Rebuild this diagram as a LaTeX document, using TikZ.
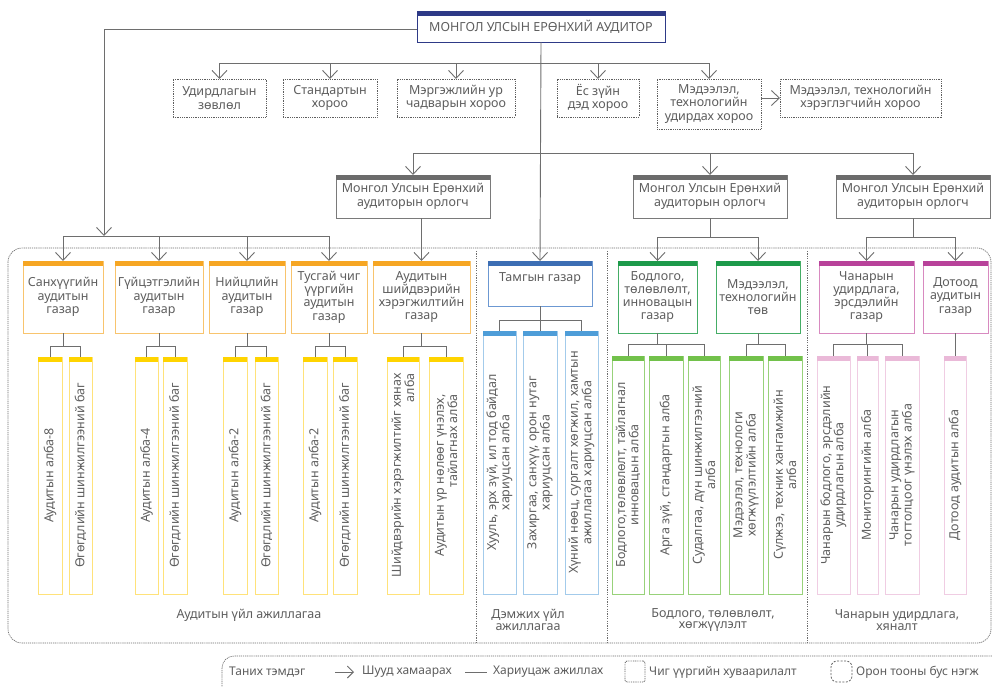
\documentclass[tikz,border=0pt]{standalone}
\usepackage{fontspec}
\setmainfont{Noto Sans}
\usetikzlibrary{arrows.meta}
\definecolor{txt}{HTML}{5E5E5E}
\definecolor{ln}{HTML}{6E6E6E}
\definecolor{navy}{HTML}{2E3A87}
\definecolor{dbar}{HTML}{6B6B6B}
\definecolor{dbord}{HTML}{7A7A7A}
\definecolor{orbar}{HTML}{F6A623}
\definecolor{orbord}{HTML}{F8C46E}
\definecolor{yebar}{HTML}{FFD400}
\definecolor{yebord}{HTML}{FFE27A}
\definecolor{blbar}{HTML}{3C6EB4}
\definecolor{blbord}{HTML}{6C98D2}
\definecolor{lbbar}{HTML}{4E9DD8}
\definecolor{lbbord}{HTML}{A3CBEB}
\definecolor{grbar}{HTML}{1D9A4A}
\definecolor{grbord}{HTML}{45AD66}
\definecolor{lgbar}{HTML}{72C14B}
\definecolor{lgbord}{HTML}{98D27A}
\definecolor{mgbar}{HTML}{B8429A}
\definecolor{mgbord}{HTML}{D88AC0}
\definecolor{pkbar}{HTML}{EAB9D8}
\definecolor{pkbord}{HTML}{F0CDE3}
\tikzset{
  base/.style={draw, inner sep=0pt, outer sep=0pt, align=center, text=txt,
    font=\fontsize{12.5}{13.3}\selectfont, line width=0.9pt, fill=white},
  committee/.style={base, draw=txt, dash pattern=on 0.9pt off 0.9pt, line width=0.8pt},
  conn/.style={draw=ln, line width=0.9pt},
  arr/.style={conn, -{Straight Barb[length=8pt,width=15pt]}},
  frame/.style={draw=ln, line width=0.7pt, dash pattern=on 1.2pt off 0.9pt},
  divider/.style={draw=ln, line width=0.7pt, dash pattern=on 1.2pt off 1.2pt},
  lbl/.style={text=txt, align=center, inner sep=0pt, font=\fontsize{12.5}{11.5}\selectfont},
  leg/.style={text=txt, inner sep=0pt, anchor=west, font=\fontsize{12}{13}\selectfont},
}
\newcommand\barbox[8]{%
  \node[base, draw=#2, anchor=north west, minimum width={(#6-#4)*1pt}, minimum height={(#7-#5)*1pt}] (#1) at (#4,#5) {#8};
  \fill[#3] (#1.north west) rectangle ([yshift=-5pt]#1.north east);
}
\newcommand\colbox[9]{%
  \node[base, draw=#2, rotate=90, align=#9, minimum width={(#7-#5)*1pt}, minimum height={(#6-#4)*1pt}] (#1) at ({(#4+#6)/2},{(#5+#7)/2}) {#8};
  \fill[#3] (#1.north east) rectangle ([yshift=-5pt]#1.south east);
}
\newcommand\cbox[6]{%
  \node[committee, anchor=north west, minimum width={(#4-#2)*1pt}, minimum height={(#5-#3)*1pt}] (#1) at (#2,#3) {#6};
}
\begin{document}
\begin{tikzpicture}[x=1pt,y=-1pt]
\useasboundingbox (0,0) rectangle (992,686);
\fill[white] (0,0) rectangle (992,686);

% frames
\draw[frame, rounded corners=14pt] (8,248) rectangle (991,643);
\draw[divider] (476,251) -- (476,643);
\draw[divider] (607,251) -- (607,643);
\draw[divider] (807,251) -- (807,643);

% top
\node[base, draw=navy, anchor=north west, minimum width=248pt, minimum height=31pt] (aud) at (417,11) {МОНГОЛ УЛСЫН ЕРӨНХИЙ АУДИТОР};
\fill[navy] (aud.north west) rectangle ([yshift=-4.5pt]aud.north east);

% committees
\cbox{c1}{173}{79}{266}{117}{Удирдлагын\\зөвлөл}
\cbox{c2}{283}{79}{377}{117}{Стандартын\\хороо}
\cbox{c3}{397}{79}{515}{117}{Мэргэжлийн ур\\чадварын хороо}
\cbox{c4}{557}{79}{639}{117}{Ёс зүйн\\дэд хороо}
\cbox{c5}{657}{79}{761}{129}{Мэдээлэл,\\технологийн\\удирдах хороо}
\cbox{c6}{780}{79}{941}{117}{Мэдээлэл, технологийн\\хэрэглэгчийн хороо}

% deputies
\barbox{d1}{dbord}{dbar}{336}{175}{490}{218}{Монгол Улсын Ерөнхий\\аудиторын орлогч}
\barbox{d2}{dbord}{dbar}{633}{175}{787}{218}{Монгол Улсын Ерөнхий\\аудиторын орлогч}
\barbox{d3}{dbord}{dbar}{836}{175}{990}{218}{Монгол Улсын Ерөнхий\\аудиторын орлогч}

% level 2
\barbox{s1}{orbord}{orbar}{23}{261}{103}{333}{Санхүүгийн\\аудитын\\газар}
\barbox{s2}{orbord}{orbar}{115}{261}{203}{333}{Гүйцэтгэлийн\\аудитын\\газар}
\barbox{s3}{orbord}{orbar}{209}{261}{285}{333}{Нийцлийн\\аудитын\\газар}
\barbox{s4}{orbord}{orbar}{291}{261}{367}{333}{Тусгай чиг\\үүргийн\\аудитын\\газар}
\barbox{s5}{orbord}{orbar}{373}{261}{470}{333}{Аудитын\\шийдвэрийн\\хэрэгжилтийн\\газар}
\barbox{tam}{blbord}{blbar}{488}{261}{592}{306}{Тамгын газар\\~}
\barbox{b1}{grbord}{grbar}{618}{261}{697}{333}{Бодлого,\\төлөвлөлт,\\инновацын\\газар}
\barbox{b2}{grbord}{grbar}{716}{261}{800}{333}{Мэдээлэл,\\технологийн\\төв}
\barbox{q1}{mgbord}{mgbar}{819}{261}{914}{333}{Чанарын\\удирдлага,\\эрсдэлийн\\газар}
\barbox{q2}{mgbord}{mgbar}{923}{261}{988}{333}{Дотоод\\аудитын\\газар}

% level 3
\colbox{a1}{yebord}{yebar}{38}{357}{62}{594}{Аудитын алба-8}{center}
\colbox{a2}{yebord}{yebar}{69}{357}{92}{594}{Өгөгдлийн шинжилгээний баг}{center}
\colbox{a3}{yebord}{yebar}{135}{357}{158}{594}{Аудитын алба-4}{center}
\colbox{a4}{yebord}{yebar}{163}{357}{187}{594}{Өгөгдлийн шинжилгээний баг}{center}
\colbox{a5}{yebord}{yebar}{223}{357}{247}{594}{Аудитын алба-2}{center}
\colbox{a6}{yebord}{yebar}{255}{357}{278}{594}{Өгөгдлийн шинжилгээний баг}{center}
\colbox{a7}{yebord}{yebar}{303}{357}{327}{594}{Аудитын алба-2}{center}
\colbox{a8}{yebord}{yebar}{333}{357}{357}{594}{Өгөгдлийн шинжилгээний баг}{center}
\colbox{a9}{yebord}{yebar}{387}{357}{419}{594}{Шийдвэрийн хэрэгжилтийг хянах\\алба}{right}
\colbox{a10}{yebord}{yebar}{429}{357}{463}{594}{Аудитын үр нөлөөг үнэлэх,\\тайлагнах алба}{right}
\colbox{t1}{lbbord}{lbbar}{483}{331}{516}{594}{Хууль, эрх зүй, ил тод байдал\\хариуцсан алба}{center}
\colbox{t2}{lbbord}{lbbar}{523}{331}{557}{594}{Захиргаа, санхүү, орон нутаг\\хариуцсан алба}{center}
\colbox{t3}{lbbord}{lbbar}{565}{331}{598}{594}{Хүний нөөц, сургалт хөгжил, хамтын\\ажиллагаа хариуцсан алба}{center}
\colbox{g1}{lgbord}{lgbar}{612}{356}{644}{594}{Бодлого,төлөвлөлт, тайлагнал\\инновацын алба}{center}
\colbox{g2}{lgbord}{lgbar}{649}{356}{683}{594}{Арга зүй, стандартын алба}{center}
\colbox{g3}{lgbord}{lgbar}{688}{356}{720}{594}{Судалгаа, дүн шинжилгээний\\алба}{center}
\colbox{g4}{lgbord}{lgbar}{729}{356}{763}{594}{Мэдээлэл, технологи\\хөгжүүлэлтийн алба}{center}
\colbox{g5}{lgbord}{lgbar}{768}{356}{802}{594}{Сүлжээ, техник хангамжийн\\алба}{center}
\colbox{p1}{pkbord}{pkbar}{817}{356}{850}{594}{Чанарын бодлого, эрсдэлийн\\удирдлагын алба}{center}
\colbox{p2}{pkbord}{pkbar}{857}{356}{878}{594}{Мониторингийн алба}{center}
\colbox{p3}{pkbord}{pkbar}{885}{356}{919}{594}{Чанарын удирдлагын\\тогтолцоог үнэлэх алба}{center}
\colbox{p4}{pkbord}{pkbar}{944}{356}{966}{594}{Дотоод аудитын алба}{center}

% group labels
\node[lbl] (gl1) at (249,615) {Аудитын үйл ажиллагаа};
\node[lbl] (gl2) at (528,620) {Дэмжих үйл\\ажиллагаа};
\node[lbl] (gl3) at (713,620) {Бодлого, төлөвлөлт,\\хөгжүүлэлт};
\node[lbl] (gl4) at (897,620) {Чанарын удирдлага,\\хяналт};

% bus coordinates
\coordinate (lb) at (104,236);
\coordinate (cb) at (540,63);
\coordinate (db) at (540,153);
\coordinate (eb) at (0,237);
\coordinate (yo) at (0,346);
\coordinate (yb) at (0,320);
\coordinate (yg) at (0,344);

% top level connectors
\draw[arr] ([yshift=-3pt]aud.west) -| (lb);
\draw[conn] (s1.north |- lb) -- (s4.north |- lb);
\foreach \n in {s1,s2,s3,s4} \draw[arr] (\n.north |- lb) -- (\n.north);
\draw[arr] (aud.south) -- (tam.north);
\draw[conn] (c1.north |- cb) -- (c5.north |- cb);
\foreach \n in {c1,c2,c3,c4,c5} \draw[arr] (\n.north |- cb) -- (\n.north);
\draw[arr] (c5.east |- c6.west) -- (c6.west);
\draw[conn] (d1.north |- db) -- (d3.north |- db);
\foreach \n in {d1,d2,d3} \draw[arr] (\n.north |- db) -- (\n.north);
\draw[arr] (s5.north |- d1.south) -- (s5.north);
\draw[conn] (d2.south) -- (d2.south |- eb);
\draw[conn] (b1.north |- eb) -- (b2.north |- eb);
\foreach \n in {b1,b2} \draw[arr] (\n.north |- eb) -- (\n.north);
\draw[conn] (d3.south) -- (d3.south |- eb);
\draw[conn] (q1.north |- eb) -- (q2.north |- eb);
\foreach \n in {q1,q2} \draw[arr] (\n.north |- eb) -- (\n.north);

% level 3 connectors
\draw[conn] (s1.south) -- (s1.south |- yo) (a1.east) |- (a2.east |- yo) -- (a2.east);
\draw[conn] (s2.south) -- (s2.south |- yo) (a3.east) |- (a4.east |- yo) -- (a4.east);
\draw[conn] (s3.south) -- (s3.south |- yo) (a5.east) |- (a6.east |- yo) -- (a6.east);
\draw[conn] (s4.south) -- (s4.south |- yo) (a7.east) |- (a8.east |- yo) -- (a8.east);
\draw[conn] (s5.south) -- (s5.south |- yo) (a9.east) |- (a10.east |- yo) -- (a10.east);
\draw[conn] (tam.south) -- (tam.south |- yb) (t1.east) |- (t3.east |- yb) -- (t3.east) (t2.east) -- (t2.east |- yb);
\draw[conn] (b1.south) -- (b1.south |- yg) (g1.east) |- (g3.east |- yg) -- (g3.east) (g2.east) -- (g2.east |- yg);
\draw[conn] (b2.south) -- (b2.south |- yg) (g4.east) |- (g5.east |- yg) -- (g5.east);
\draw[conn] (q1.south) -- (q1.south |- yg) (p1.east) |- (p3.east |- yg) -- (p3.east) (p2.east) -- (p2.east |- yg);
\draw[conn] (q2.south) -- (q2.south |- p4.east);

% legend
\draw[frame, rounded corners=12pt] (222,656) rectangle (1010,712);
\node[leg] (l0) at (229,672) {Таних тэмдэг};
\coordinate (la1) at (335,672);
\coordinate (la2) at (354,672);
\draw[conn, -{Straight Barb[length=6pt,width=12pt]}] (la1) -- (la2);
\node[leg] (l1) at (362,672) {Шууд хамаарах};
\coordinate (lc1) at (465,672);
\coordinate (lc2) at (487,672);
\draw[conn] (lc1) -- (lc2);
\node[leg] (l2) at (493,672) {Хариуцаж ажиллах};
\node[committee, minimum width=20pt, minimum height=21pt, rounded corners=2pt] (l3s) at (635,671.5) {};
\node[leg] (l3) at (649,672) {Чиг үүргийн хуваарилалт};
\node[draw=txt, line width=0.8pt, dash pattern=on 2pt off 1.5pt, rounded corners=6pt, minimum width=21pt, minimum height=21pt, inner sep=0pt] (l4s) at (841.5,671.5) {};
\node[leg] (l4) at (856,672) {Орон тооны бус нэгж};
\end{tikzpicture}
\end{document}
